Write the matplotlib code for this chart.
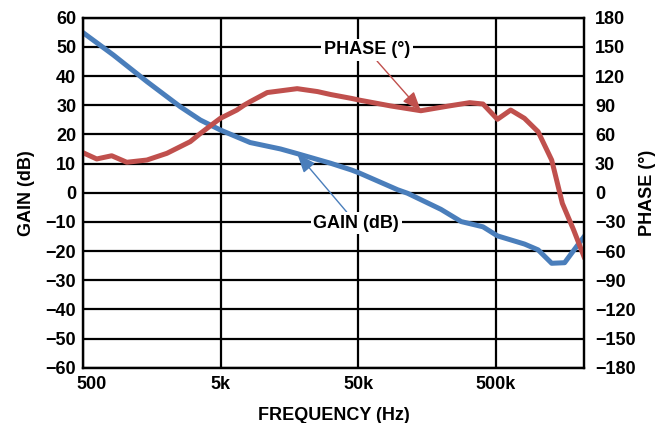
import matplotlib.pyplot as plt
from matplotlib.ticker import FixedLocator, NullLocator
import matplotlib.transforms as mtransforms

# values
gain_freq = [500, 828, 1451, 2535, 3560, 4970, 8180, 13600, 18000, 31500, 44600,
             50700, 97000, 114500, 200000, 281000, 405000, 516000, 811000,
             1020000, 1280000, 1590000, 1940000, 2200000]
gain_db = [54.8, 47.2, 38.1, 29.5, 24.9, 21.5, 17.2, 15.0, 13.4, 10.1, 7.8,
           6.8, 1.0, -0.2, -5.7, -9.9, -11.7, -14.8, -17.6,
           -19.6, -24.2, -24.0, -18.5, -15.1]

phase_freq = [500, 626, 805, 1036, 1451, 2029, 3000, 3560, 4447, 4970, 6550,
              7390, 8180, 10900, 18000, 25300, 31500, 44600, 50700, 86500,
              143000, 224000, 324000, 405000, 516000, 644000, 811000, 1020000,
              1280000, 1530000, 1850000, 2200000]
phase_deg = [41, 34.7, 38, 31.3, 33.6, 40.5, 52.5, 61, 71.4, 76.5, 85,
             90, 93.6, 103, 107, 104, 101, 97, 95.3, 89.2,
             84.3, 89, 92.6, 91.2, 75.5, 85, 76.5, 62.7,
             33.6, -10.9, -38.4, -65.8]

x_ticks = [500, 5000, 50000, 500000]
x_labels = ["500", "5k", "50k", "500k"]

blue = "#4a7ebb"
red = "#c0504d"

plt.rcParams['font.family'] = ['Liberation Sans', 'DejaVu Sans']
plt.rcParams['font.weight'] = 'bold'

fig = plt.figure(figsize=(6.59, 4.23), dpi=100)
ax = fig.add_axes([0.1264, 0.1307, 0.7598, 0.8275])
ax2 = ax.twinx()

ax.set_xscale('log')
ax.set_xlim(500, 2.2e6)
ax.set_ylim(-60, 60)
ax2.set_ylim(-180, 180)

ax.xaxis.set_major_locator(FixedLocator(x_ticks))
ax.xaxis.set_minor_locator(NullLocator())
ax.set_xticklabels(x_labels)
ax.set_yticks(range(-60, 61, 10))
ax2.set_yticks(range(-180, 181, 30))

ax.grid(True, color='black', linewidth=1.6)
for s in list(ax.spines.values()) + list(ax2.spines.values()):
    s.set_linewidth(1.6)

ax.tick_params(length=0, labelsize=13, pad=5)
ax.tick_params(axis='x', pad=6)
ax2.tick_params(length=0, labelsize=13, pad=8)
for t in ax.get_xticklabels() + ax.get_yticklabels() + ax2.get_yticklabels():
    t.set_fontweight('bold')

# shift the "500" label right so it clears -60
lbl = ax.get_xticklabels()[0]
lbl.set_transform(lbl.get_transform() + mtransforms.ScaledTranslation(8 / 100, 0, fig.dpi_scale_trans))

ax.plot(gain_freq, gain_db, color=blue, linewidth=3.6, solid_joinstyle='round')
ax2.plot(phase_freq, phase_deg, color=red, linewidth=3.6, solid_joinstyle='round')

ax.set_xlabel("FREQUENCY (Hz)", fontsize=13, fontweight='bold', labelpad=10)
ax.set_ylabel("GAIN (dB)", fontsize=13, fontweight='bold', labelpad=8)
ax2.set_ylabel("PHASE (°)", fontsize=13, fontweight='bold', labelpad=2)

ax2.annotate("PHASE (°)", xy=(phase_freq[20], phase_deg[20]), xytext=(0.567, 0.908),
             textcoords='axes fraction', ha='center', va='center',
             fontsize=13, fontweight='bold',
             bbox=dict(facecolor='white', edgecolor='none', pad=2),
             arrowprops=dict(arrowstyle='-|>,head_length=0.9,head_width=0.35',
                             color=red, lw=1, shrinkA=0, shrinkB=0))
ax2.annotate("GAIN (dB)", xy=(gain_freq[8], gain_db[8] * 3), xytext=(0.545, 0.413),
             textcoords='axes fraction', ha='center', va='center',
             fontsize=13, fontweight='bold',
             bbox=dict(facecolor='white', edgecolor='none', pad=2),
             arrowprops=dict(arrowstyle='-|>,head_length=0.9,head_width=0.35',
                             color=blue, lw=1, shrinkA=0, shrinkB=0))

plt.savefig("out.png", dpi=100)
